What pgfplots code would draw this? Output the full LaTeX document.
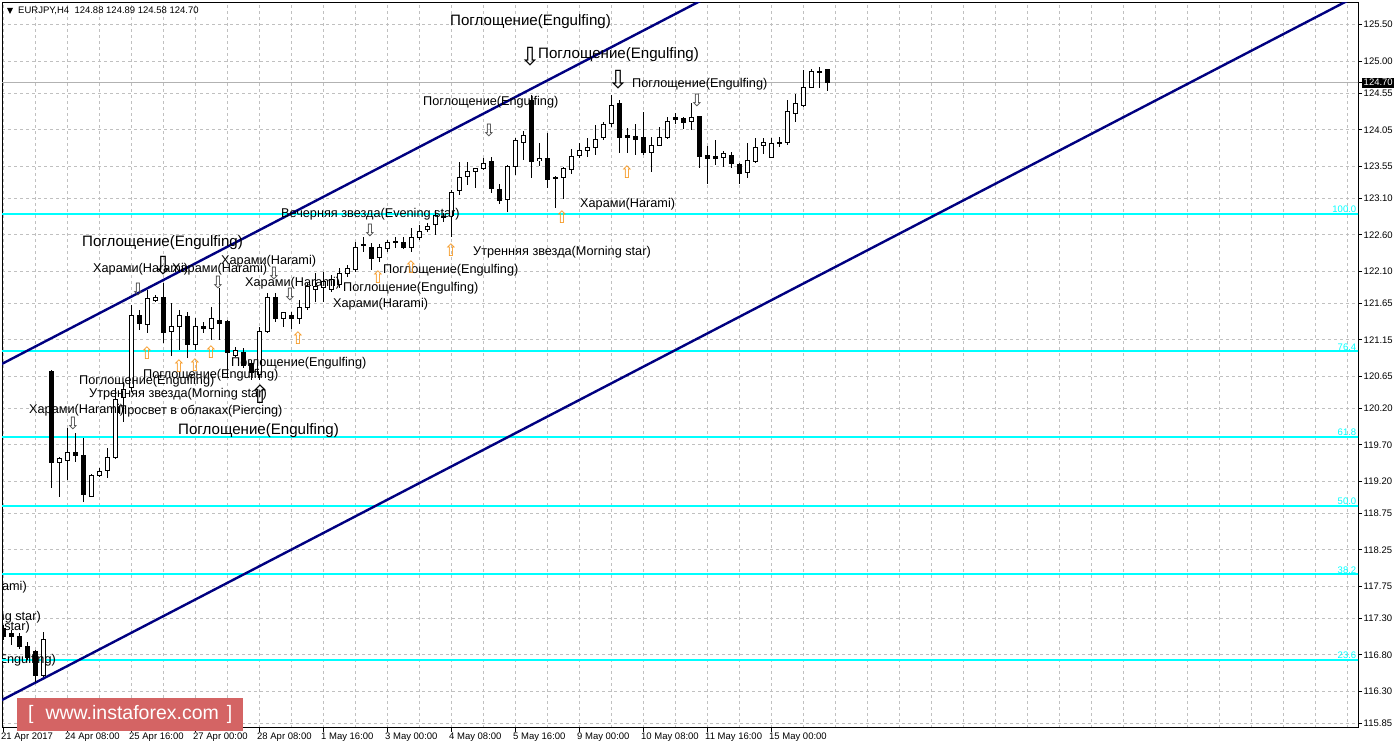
\documentclass[border=0pt]{standalone}
\usepackage{fontspec}
\setmainfont{Liberation Sans}
\newfontfamily\dejavu{DejaVu Sans}
\usepackage{pgfplots}
\pgfplotsset{compat=1.18}
\usepackage{pgfplotstable}
\definecolor{fibcyan}{RGB}{0,255,255}
\definecolor{chnavy}{RGB}{0,0,128}
\definecolor{gridgray}{RGB}{192,192,192}
\definecolor{uparrow}{RGB}{245,150,30}
\definecolor{wmred}{RGB}{212,100,100}
\newcommand\fsmall{\fontsize{12.7}{14}\selectfont}
\newcommand\flarge{\fontsize{15.1}{17}\selectfont}
\newcommand\ftick{\fontsize{9.5}{11}\selectfont}

\pgfplotstableread{
i o h l c
0 117.17 117.21 117.01 117.05
1 117.10 117.14 116.94 117.05
2 117.05 117.10 116.88 116.92
3 116.92 116.98 116.73 116.76
4 116.84 116.87 116.43 116.52
5 116.52 117.12 116.50 117.01
6 120.71 120.73 119.10 119.46
7 119.45 119.53 118.98 119.51
8 119.49 119.93 119.22 119.60
9 119.59 119.86 119.46 119.56
10 119.56 119.80 118.91 119.01
11 118.99 119.29 118.98 119.27
12 119.27 119.38 119.26 119.33
13 119.34 119.66 119.24 119.53
14 119.52 120.49 119.51 120.32
15 120.35 120.57 120.02 120.46
16 120.49 121.63 120.43 121.49
17 121.48 121.56 121.29 121.38
18 121.36 121.84 121.25 121.72
19 121.69 121.77 121.67 121.74
20 121.74 121.94 121.11 121.25
21 121.26 121.66 120.93 121.33
22 121.34 121.56 121.01 121.48
23 121.47 121.54 120.90 121.08
24 121.08 121.45 121.01 121.33
25 121.33 121.40 121.25 121.30
26 121.30 121.60 121.15 121.44
27 121.42 121.87 121.15 121.38
28 121.40 121.43 120.64 120.98
29 120.94 121.05 120.91 121.00
30 120.97 121.04 120.76 120.80
31 120.83 120.87 120.60 120.70
32 120.67 121.32 120.60 121.26
33 121.27 121.80 121.25 121.74
34 121.73 121.80 121.40 121.45
35 121.44 121.54 121.33 121.52
36 121.48 121.54 121.30 121.45
37 121.45 121.70 121.37 121.59
38 121.59 121.94 121.56 121.88
39 121.85 122.07 121.67 121.88
40 121.87 122.09 121.67 121.95
41 121.84 122.05 121.81 121.98
42 121.91 122.14 121.87 122.06
43 122.07 122.19 122.02 122.14
44 122.12 122.50 122.09 122.43
45 122.46 122.57 122.36 122.45
46 122.43 122.49 122.12 122.28
47 122.28 122.48 122.23 122.42
48 122.41 122.53 122.36 122.50
49 122.51 122.57 122.42 122.50
50 122.50 122.57 122.41 122.42
51 122.42 122.70 122.36 122.56
52 122.56 122.74 122.53 122.65
53 122.68 122.77 122.64 122.72
54 122.74 122.94 122.60 122.86
55 122.84 122.90 122.78 122.85
56 122.86 123.22 122.57 123.19
57 123.21 123.61 123.15 123.39
58 123.40 123.61 123.29 123.48
59 123.47 123.52 123.25 123.51
60 123.51 123.66 123.50 123.58
61 123.61 123.68 123.18 123.24
62 123.22 123.30 123.03 123.07
63 123.08 123.57 122.92 123.54
64 123.55 123.94 123.43 123.90
65 123.88 124.04 123.63 123.97
66 124.46 124.53 123.39 123.61
67 123.62 123.87 123.55 123.66
68 123.66 124.01 123.25 123.37
69 123.39 123.41 122.97 123.37
70 123.39 123.54 123.10 123.51
71 123.50 123.79 123.44 123.68
72 123.70 123.87 123.66 123.77
73 123.77 123.94 123.68 123.81
74 123.80 124.12 123.70 123.92
75 123.95 124.16 123.91 124.13
76 124.13 124.53 124.09 124.39
77 124.41 124.46 123.73 123.94
78 123.97 124.08 123.73 123.94
79 123.95 124.13 123.70 123.92
80 123.95 124.30 123.70 123.73
81 123.73 123.95 123.47 123.84
82 123.84 124.09 123.83 123.95
83 123.95 124.23 123.92 124.16
84 124.22 124.28 124.13 124.19
85 124.20 124.22 124.06 124.15
86 124.16 124.42 124.05 124.22
87 124.23 124.24 123.52 123.68
88 123.70 123.82 123.30 123.66
89 123.68 123.91 123.57 123.65
90 123.66 123.75 123.54 123.72
91 123.70 123.75 123.52 123.58
92 123.57 123.59 123.30 123.44
93 123.46 123.87 123.39 123.62
94 123.61 123.94 123.59 123.81
95 123.83 123.94 123.72 123.87
96 123.66 123.94 123.66 123.86
97 123.86 123.95 123.81 123.87
98 123.87 124.46 123.84 124.30
99 124.28 124.55 124.16 124.41
100 124.38 124.88 124.37 124.64
101 124.64 124.89 124.63 124.85
102 124.85 124.91 124.63 124.86
103 124.88 124.89 124.58 124.70
}\candles

\begin{document}
\begin{tikzpicture}[
  lbl/.style={anchor=west, inner sep=0pt, font=\fsmall, text=black},
  lblE/.style={anchor=east, inner sep=0pt, font=\fsmall, text=black}]
\begin{axis}[
  name=ax, at={(0,0)}, anchor=south west,
  scale only axis, width=1356pt, height=725pt,
  xmin=-0.125, xmax=169.375, ymin=115.79, ymax=125.80,
  axis line style={black, line width=1pt},
  xtick={0,8,...,96},
  xticklabels={21 Apr 2017,24 Apr 08:00,25 Apr 16:00,27 Apr 00:00,28 Apr 08:00,1 May 16:00,3 May 00:00,4 May 08:00,5 May 16:00,9 May 00:00,10 May 08:00,11 May 16:00,15 May 00:00},
  minor xtick={0,4,...,168},
  ytick={115.85,116.30,116.80,117.30,117.75,118.25,118.75,119.20,119.70,120.20,120.65,121.15,121.65,122.10,122.60,123.10,123.55,124.05,124.55,125.00,125.50},
  yticklabels={115.85,116.30,116.80,117.30,117.75,118.25,118.75,119.20,119.70,120.20,120.65,121.15,121.65,122.10,122.60,123.10,123.55,124.05,124.55,125.00,125.50},
  extra y ticks={124.70}, extra y tick labels={124.70},
  extra y tick style={grid=none, yticklabel style={fill=black, text=white, inner sep=1.5pt}},
  xminorgrids, ymajorgrids,
  grid style={gridgray, dash pattern=on 3pt off 3pt, line width=0.8pt},
  minor grid style={gridgray, dash pattern=on 3pt off 3pt, line width=0.8pt},
  tick align=outside, xtick pos=bottom, ytick pos=right, yticklabel pos=right,
  major tick length=4pt, minor tick length=0pt,
  tick style={black, line width=0.8pt},
  x tick label style={anchor=north west, font=\ftick, xshift=-3pt, inner sep=1pt},
  y tick label style={anchor=west, font=\ftick, inner sep=1.5pt},
]
% Fibonacci levels
\addplot[fibcyan, line width=2pt, forget plot] coordinates {(-1,122.89) (200,122.89)};
\addplot[fibcyan, line width=2pt, forget plot] coordinates {(-1,120.99) (200,120.99)};
\addplot[fibcyan, line width=2pt, forget plot] coordinates {(-1,119.81) (200,119.81)};
\addplot[fibcyan, line width=2pt, forget plot] coordinates {(-1,118.86) (200,118.86)};
\addplot[fibcyan, line width=2pt, forget plot] coordinates {(-1,117.91) (200,117.91)};
\addplot[fibcyan, line width=2pt, forget plot] coordinates {(-1,116.73) (200,116.73)};
% bid line
\addplot[black!30, line width=1pt, forget plot] coordinates {(-1,124.70) (200,124.70)};
% channel
\addplot[chnavy, line width=2.4pt, forget plot] coordinates {(-2,120.710) (100,126.565)};
\addplot[chnavy, line width=2.4pt, forget plot] coordinates {(-2,116.069) (180,126.516)};
% wicks
\addplot[draw=none, forget plot, error bars/.cd, y dir=both, y explicit, error mark=none,
  error bar style={draw=black, line width=1pt}]
  table[x=i, y expr={(\thisrow{h}+\thisrow{l})/2}, y error expr={(\thisrow{h}-\thisrow{l})/2}] {\candles};
% bodies
\addplot[draw=none, forget plot, error bars/.cd, y dir=both, y explicit, error mark=none,
  error bar style={draw=black, line width=5pt}]
  table[x=i, y expr={(\thisrow{o}+\thisrow{c})/2}, y error expr={abs(\thisrow{c}-\thisrow{o})/2+0.0069}] {\candles};
\addplot[draw=none, forget plot, error bars/.cd, y dir=both, y explicit, error mark=none,
  error bar style={draw=white, line width=3pt}]
  table[x=i, y expr={(\thisrow{o}+\thisrow{c})/2}, y error expr={max((\thisrow{c}-\thisrow{o})/2-0.0069,0)}] {\candles};
% arrows
\addplot[only marks, mark=text, text mark={\dejavu ⇩}, text mark as node=true,
  text mark style={font=\fontsize{17}{17}\selectfont, text=black!75, inner sep=0pt, anchor=center}]
  coordinates {(60.75,124.036) (86.75,124.45) (45.875,122.655) (16.875,121.84) (26.875,121.936) (33.875,122.06) (35.875,121.78) (8.75,119.989)};
\addplot[only marks, mark=text, text mark={\dejavu ⇩}, text mark as node=true,
  text mark style={font=\fontsize{25}{25}\selectfont, text=black, inner sep=0pt, anchor=center}]
  coordinates {(65.875,125.058) (76.875,124.74) (20,122.171)};
\addplot[only marks, mark=text, text mark={\dejavu ⇧}, text mark as node=true,
  text mark style={font=\fontsize{17}{17}\selectfont, text=uparrow, inner sep=0pt, anchor=center}]
  coordinates {(56,122.392) (69.875,122.848) (78,123.47) (51,122.157) (46.875,122.02) (36.875,121.177) (18,120.969) (22,120.79) (24,120.804) (26,120.983)};
\addplot[only marks, mark=text, text mark={\dejavu ⇧}, text mark as node=true,
  text mark style={font=\fontsize{25}{25}\selectfont, text=black, inner sep=0pt, anchor=center}]
  coordinates {(32.125,120.403)};
% pattern labels
\node[lbl, font=\flarge] at (axis cs:55.875,125.541) {Поглощение(Engulfing)};
\node[lbl, font=\flarge] at (axis cs:66.875,125.085) {Поглощение(Engulfing)};
\node[lbl] at (axis cs:78.625,124.685) {Поглощение(Engulfing)};
\node[lbl] at (axis cs:52.5,124.436) {Поглощение(Engulfing)};
\node[lbl] at (axis cs:34.75,122.89) {Вечерняя звезда(Evening star)};
\node[lbl] at (axis cs:58.75,122.364) {Утренняя звезда(Morning star)};
\node[lbl] at (axis cs:72.125,123.027) {Харами(Harami)};
\node[lbl, font=\flarge] at (axis cs:9.875,122.489) {Поглощение(Engulfing)};
\node[lbl] at (axis cs:11.25,122.13) {Харами(Harami)};
\node[lbl] at (axis cs:21.125,122.13) {Харами(Harami)};
\node[lbl] at (axis cs:27.25,122.24) {Харами(Harami)};
\node[lbl] at (axis cs:30.25,121.936) {Харами(Harami)};
\node[lbl] at (axis cs:47.5,122.116) {Поглощение(Engulfing)};
\node[lbl] at (axis cs:42.5,121.867) {Поглощение(Engulfing)};
\node[lbl] at (axis cs:41.25,121.646) {Харами(Harami)};
\node[lbl] at (axis cs:28.5,120.831) {Поглощение(Engulfing)};
\node[lbl] at (axis cs:17.5,120.666) {Поглощение(Engulfing)};
\node[lbl] at (axis cs:9.5,120.583) {Поглощение(Engulfing)};
\node[lbl] at (axis cs:10.75,120.403) {Утренняя звезда(Morning star)};
\node[lbl] at (axis cs:14.375,120.168) {Просвет в облаках(Piercing)};
\node[lbl, font=\flarge] at (axis cs:21.875,119.892) {Поглощение(Engulfing)};
\node[lbl] at (axis cs:3.25,120.182) {Харами(Harami)};
\node[lblE] at (axis cs:3,117.737) {Харами(Harami)};
\node[lblE] at (axis cs:4.75,117.323) {Утренняя звезда(Morning star)};
\node[lblE] at (axis cs:3.375,117.185) {Вечерняя звезда(Evening star)};
\node[lblE] at (axis cs:6.625,116.729) {Поглощение(Engulfing)};
% fib labels
\node[anchor=south east, inner sep=1pt, text=fibcyan, font=\ftick] at (axis cs:169.3,122.89) {100.0};
\node[anchor=south east, inner sep=1pt, text=fibcyan, font=\ftick] at (axis cs:169.3,120.99) {76.4};
\node[anchor=south east, inner sep=1pt, text=fibcyan, font=\ftick] at (axis cs:169.3,119.81) {61.8};
\node[anchor=south east, inner sep=1pt, text=fibcyan, font=\ftick] at (axis cs:169.3,118.86) {50.0};
\node[anchor=south east, inner sep=1pt, text=fibcyan, font=\ftick] at (axis cs:169.3,117.91) {38.2};
\node[anchor=south east, inner sep=1pt, text=fibcyan, font=\ftick] at (axis cs:169.3,116.73) {23.6};
\end{axis}
% header
\fill[black] (5pt,720pt) -- (11pt,720pt) -- (8pt,714pt) -- cycle;
\node[anchor=west, inner sep=0pt, font=\ftick] at (16pt,717pt) {EURJPY,H4\ \ 124.88 124.89 124.58 124.70};
% watermark
\node[fill=wmred, text=white, anchor=south west, minimum width=226pt, minimum height=33pt, inner sep=0pt,
  font=\fontsize{19.5}{22}\selectfont] at (15pt,-3pt) {[\hspace{12pt}www.instaforex.com\hspace{8pt}]};
\pgfresetboundingbox
\useasboundingbox (-2pt,-21pt) rectangle (1396pt,728pt);
\end{tikzpicture}
\end{document}
